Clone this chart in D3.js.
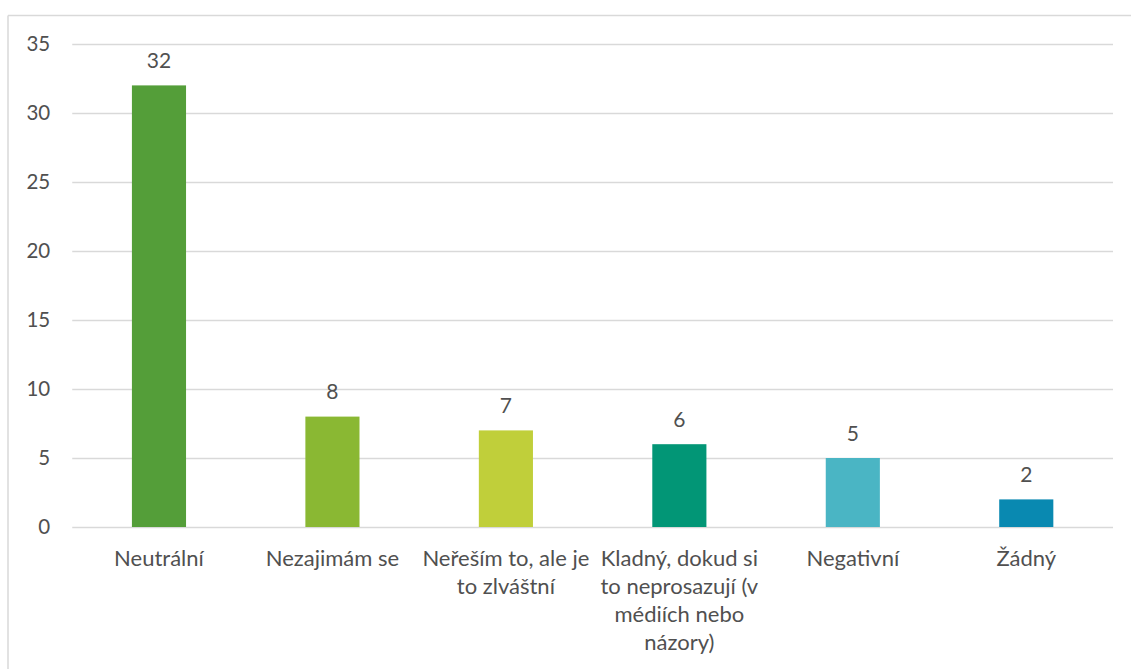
<!DOCTYPE html>
<html><head><meta charset="utf-8">
<script src="https://cdn.jsdelivr.net/npm/d3@7"></script>
<style>body{margin:0;background:#fff}svg{display:block}</style>
</head><body><svg id="c" width="1131" height="669"></svg>
<script>
const categories = ["Neutrální","Nezajimám se","Neřeším to, ale je\nto zlváštní","Kladný, dokud si\nto neprosazují (v\nmédiích nebo\nnázory)","Negativní","Žádný"];
const values = [32, 8, 7, 6, 5, 2];
const colors = ["#549E39","#8AB833","#C0CF3A","#029676","#4AB5C4","#0989B1"];
const yTicks = [0,5,10,15,20,25,30,35];

(function(){
const svg = d3.select("#c");
const font = "Lato, 'Open Sans', sans-serif";
const txt = "#505050";
const pL = 72.25, pR = 1113, pT = 44, pB = 527;

svg.append("line").attr("x1",8).attr("x2",1131).attr("y1",15.5).attr("y2",15.5).attr("stroke","#d9d9d9").attr("stroke-width",1.5);
svg.append("line").attr("x1",8).attr("x2",8).attr("y1",15.5).attr("y2",669).attr("stroke","#d9d9d9").attr("stroke-width",1.5);

const x = d3.scaleBand().domain(categories).range([pL,pR]).paddingInner(0.688).paddingOuter(0.344);
const y = d3.scaleLinear().domain([0,35]).range([pB,pT]);

const yAxis = svg.append("g").attr("transform",`translate(${pL},0)`)
  .call(d3.axisLeft(y).tickValues(yTicks).tickSize(-(pR-pL)).tickPadding(22));
yAxis.select(".domain").remove();
yAxis.selectAll(".tick line").attr("stroke","#d9d9d9").attr("stroke-width",1.5);
yAxis.selectAll(".tick text").attr("fill",txt).style("font-family",font).style("font-size","20.5px");

svg.append("g").selectAll("rect").data(values).join("rect")
  .attr("x",(d,i)=>x(categories[i])).attr("width",x.bandwidth())
  .attr("y",d=>y(d)).attr("height",d=>y(0)-y(d))
  .attr("fill",(d,i)=>colors[i]);

svg.append("g").selectAll("text").data(values).join("text")
  .attr("x",(d,i)=>x(categories[i])+x.bandwidth()/2)
  .attr("y",d=>y(d)-17.5)
  .attr("text-anchor","middle").attr("fill",txt)
  .style("font-family",font).style("font-size","21px")
  .text(d=>d);

const xl = svg.append("g");
categories.forEach((c,i)=>{
  const t = xl.append("text").attr("text-anchor","middle").attr("fill",txt)
    .style("font-family",font).style("font-size","22px");
  c.split("\n").forEach((line,j)=>{
    t.append("tspan").attr("x",x(c)+x.bandwidth()/2).attr("y",565.5+j*28).text(line);
  });
});
})();
</script></body></html>
